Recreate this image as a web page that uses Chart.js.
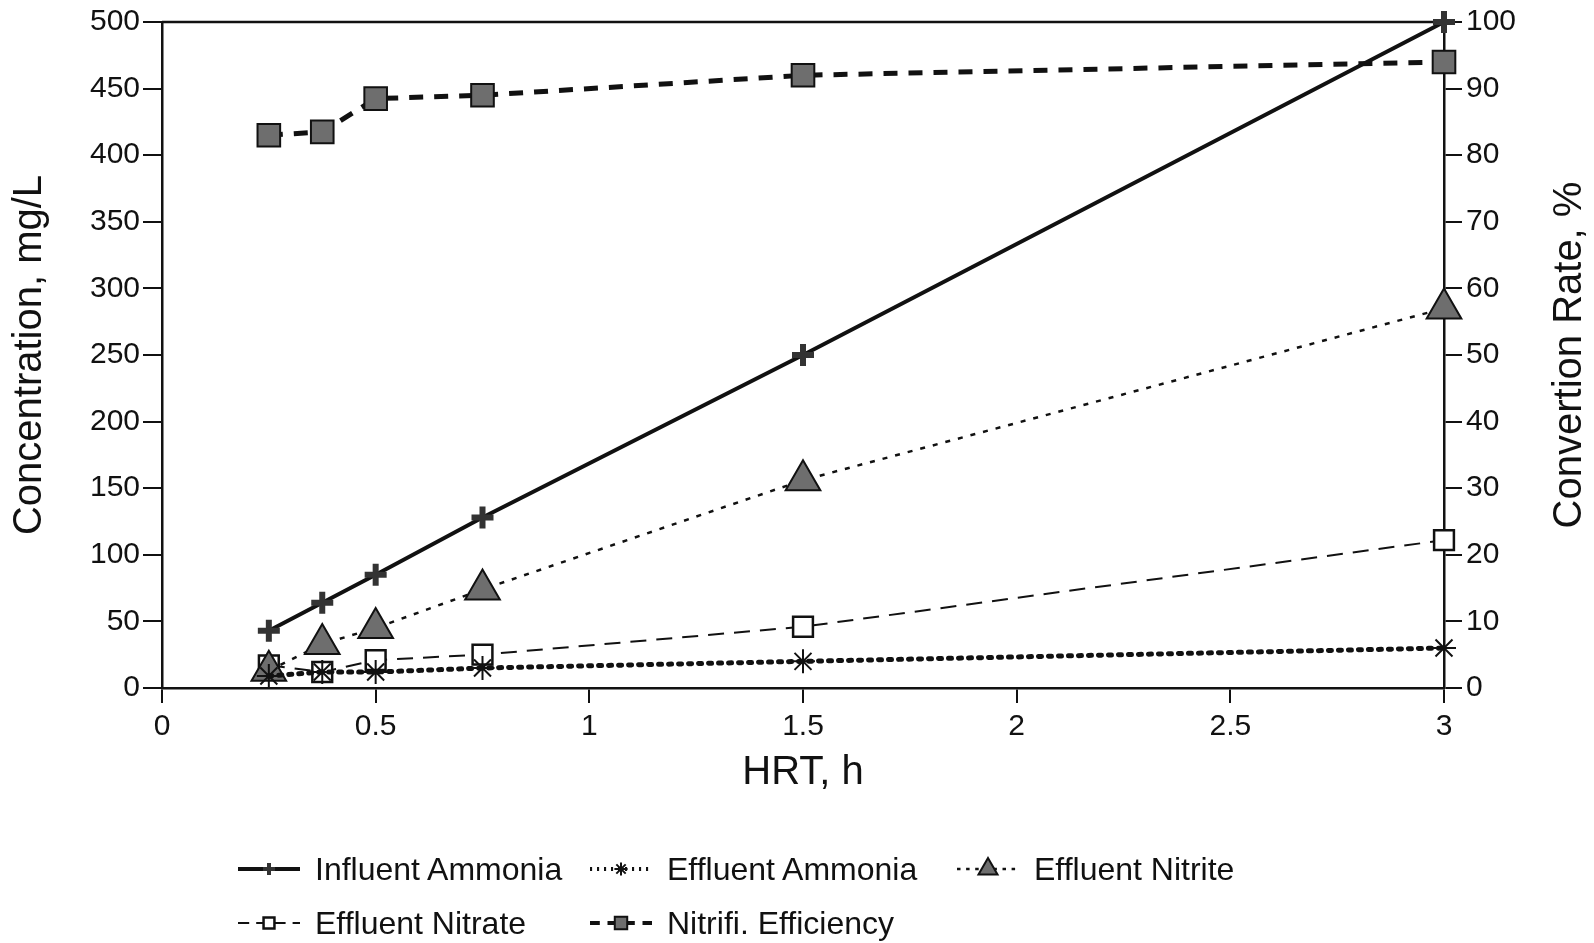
<!DOCTYPE html>
<html>
<head>
<meta charset="utf-8">
<script src="https://cdn.jsdelivr.net/npm/chart.js@4/dist/chart.umd.min.js"></script>
<style>
  html, body { margin: 0; padding: 0; background: #fff; }
  #wrap { position: relative; width: 1594px; height: 943px; }
  #chart { position: absolute; left: 0; top: 0; }
  #legend {
    position: absolute; left: 236px; top: 842px;
    display: grid; grid-template-columns: 352px 367px auto; grid-auto-rows: 54px;
    font-family: "Liberation Sans", Arial, sans-serif; font-size: 32px; color: #111;
  }
  .item { display: flex; align-items: center; white-space: nowrap; }
  .item canvas { margin-right: 13px; }
</style>
</head>
<body>
<div id="wrap">
  <canvas id="chart" width="1594" height="943"></canvas>
  <div id="legend"></div>
</div>
<script>
// HRT values (h) shared by every series
const hrt = [0.25, 0.375, 0.5, 0.75, 1.5, 3];

// concentrations, mg/L (left axis)
const influentAmmonia = [43, 64, 85, 128, 250, 500];
const effluentAmmonia = [9, 12, 12, 15, 20, 30];
const effluentNitrite = [13, 33, 45, 74, 156, 285];
const effluentNitrate = [17, 12, 21, 25, 46, 111];

// conversion rate, % (right axis)
const nitrifEfficiency = [83, 83.5, 88.5, 89, 92, 94];

// tick labels
const xTicks = [0, 0.5, 1, 1.5, 2, 2.5, 3];
const leftTicks = [0, 50, 100, 150, 200, 250, 300, 350, 400, 450, 500];
const rightTicks = [0, 10, 20, 30, 40, 50, 60, 70, 80, 90, 100];

const FONT = '"Liberation Sans", Arial, sans-serif';
const INK = '#111';
const GREY = '#6e6e6e';

const toPoints = (ys) => hrt.map((x, i) => ({ x, y: ys[i] }));

const series = [
  {
    label: 'Influent Ammonia', data: influentAmmonia, yAxisID: 'y',
    borderWidth: 4, borderDash: [],
    pointStyle: 'cross', pointRadius: 11, pointBorderWidth: 6, pointBackgroundColor: GREY, pointBorderColor: '#333'
  },
  {
    label: 'Effluent Ammonia', data: effluentAmmonia, yAxisID: 'y',
    borderWidth: 5, borderDash: [3, 7], borderCapStyle: 'round',
    pointStyle: 'star', pointRadius: 12, pointBorderWidth: 2, pointBackgroundColor: '#fff', pointBorderColor: INK
  },
  {
    label: 'Effluent Nitrite', data: effluentNitrite, yAxisID: 'y',
    borderWidth: 2.5, borderDash: [5, 8],
    pointStyle: 'triangle', pointRadius: 20, pointBorderWidth: 2, pointBackgroundColor: GREY, pointBorderColor: INK
  },
  {
    label: 'Effluent Nitrate', data: effluentNitrate, yAxisID: 'y',
    borderWidth: 2, borderDash: [16, 10],
    pointStyle: 'rect', pointRadius: 14, pointBorderWidth: 2.5, pointBackgroundColor: '#fff', pointBorderColor: INK
  },
  {
    label: 'Nitrifi. Efficiency', data: nitrifEfficiency, yAxisID: 'y2',
    borderWidth: 5, borderDash: [14, 11],
    pointStyle: 'rect', pointRadius: 16, pointBorderWidth: 2, pointBackgroundColor: GREY, pointBorderColor: INK
  }
];

const datasets = series.map(s => ({
  ...s,
  data: toPoints(s.data),
  borderColor: INK,
  backgroundColor: INK,
  fill: false,
  tension: 0,
  clip: false
}));

// top frame line + right axis title (reads bottom to top)
const framePlugin = {
  id: 'frame',
  beforeDatasetsDraw(chart) {
    const { ctx, chartArea } = chart;
    ctx.save();
    ctx.strokeStyle = INK;
    ctx.lineWidth = 2.5;
    ctx.beginPath();
    ctx.moveTo(chartArea.left, chartArea.top);
    ctx.lineTo(chartArea.right, chartArea.top);
    ctx.stroke();
    ctx.restore();
  },
  afterDraw(chart) {
    const { ctx, chartArea } = chart;
    ctx.save();
    ctx.translate(1570, (chartArea.top + chartArea.bottom) / 2);
    ctx.rotate(-Math.PI / 2);
    ctx.fillStyle = INK;
    ctx.font = `40px ${FONT}`;
    ctx.textAlign = 'center';
    ctx.textBaseline = 'middle';
    ctx.fillText('Convertion Rate, %', 0, 0);
    ctx.restore();
  }
};

const tickFont = { family: FONT, size: 30 };
const titleFont = { family: FONT, size: 40, lineHeight: 1 };
const axisBorder = { display: true, color: INK, width: 2.5 };

new Chart(document.getElementById('chart'), {
  type: 'line',
  data: { datasets },
  options: {
    responsive: false,
    animation: false,
    layout: { padding: { top: 22, right: 0, bottom: 133, left: 0 } },
    plugins: { legend: { display: false }, tooltip: { enabled: false } },
    scales: {
      x: {
        type: 'linear', min: 0, max: 3,
        afterBuildTicks: (s) => { s.ticks = xTicks.map(v => ({ value: v })); },
        afterFit: (s) => { s.height = 122; },
        border: axisBorder,
        grid: { drawOnChartArea: false, drawTicks: true, tickLength: 15, color: INK, lineWidth: 2 },
        ticks: { font: tickFont, color: INK, padding: 6, maxRotation: 0, callback: (v) => String(v) },
        title: { display: true, text: 'HRT, h', font: titleFont, color: INK, padding: { top: 0, bottom: 17 } }
      },
      y: {
        position: 'left', min: 0, max: 500,
        afterBuildTicks: (s) => { s.ticks = leftTicks.map(v => ({ value: v })); },
        afterFit: (s) => { s.width = 162; },
        border: axisBorder,
        grid: { drawOnChartArea: false, drawTicks: true, tickLength: 19, color: INK, lineWidth: 2 },
        ticks: { font: tickFont, color: INK, padding: 3 },
        title: { display: true, text: 'Concentration, mg/L', font: titleFont, color: INK, padding: { top: 10, bottom: 0 } }
      },
      y2: {
        position: 'right', min: 0, max: 100,
        afterBuildTicks: (s) => { s.ticks = rightTicks.map(v => ({ value: v })); },
        afterFit: (s) => { s.width = 150; },
        border: axisBorder,
        grid: { drawOnChartArea: false, drawTicks: true, tickLength: 18, color: INK, lineWidth: 2 },
        ticks: { font: tickFont, color: INK, padding: 4 }
      }
    }
  },
  plugins: [framePlugin]
});

// legend: 3-column grid with line sample + marker drawn per series
const legendEl = document.getElementById('legend');
datasets.forEach(ds => {
  const item = document.createElement('div');
  item.className = 'item';
  const c = document.createElement('canvas');
  c.width = 66; c.height = 30;
  const g = c.getContext('2d');
  g.strokeStyle = INK;
  g.lineWidth = Math.min(ds.borderWidth, 4);
  g.setLineDash(ds.borderDash.length ? ds.borderDash.map(v => v * 0.7) : []);
  g.beginPath();
  g.moveTo(2, 15);
  g.lineTo(64, 15);
  g.stroke();
  g.setLineDash([]);
  g.fillStyle = ds.pointBackgroundColor;
  g.strokeStyle = ds.pointBorderColor;
  g.lineWidth = Math.min(ds.pointBorderWidth, 4);
  Chart.helpers.drawPoint(g, {
    pointStyle: ds.pointStyle,
    radius: ds.pointRadius * 0.55,
    rotation: 0,
    borderWidth: ds.pointBorderWidth
  }, 33, 15);
  item.appendChild(c);
  const t = document.createElement('span');
  t.textContent = ds.label;
  item.appendChild(t);
  legendEl.appendChild(item);
});
</script>
</body>
</html>
